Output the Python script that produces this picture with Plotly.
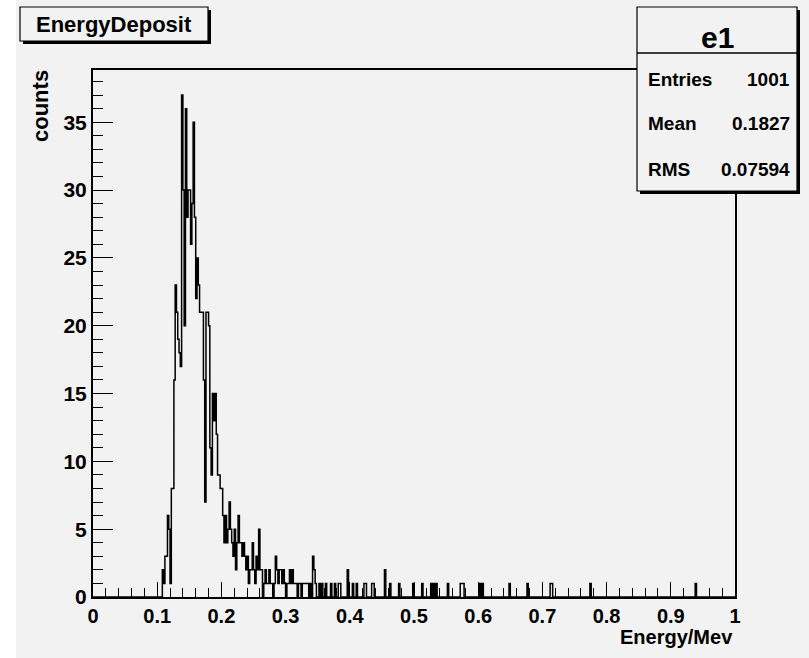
import numpy as np
import plotly.graph_objects as go

# Histogram definition: 500 bins between 0 and 1 MeV
N_BINS = 500
E_MIN, E_MAX = 0.0, 1.0
Y_MAX = 38.85

# Counts of the contiguous peak region, starting at bin PEAK_FIRST_BIN
PEAK_FIRST_BIN = 53
peak_counts = [
    0, 2, 1, 3, 3, 6, 5, 1, 8, 8,
    16, 23, 21, 19, 18, 17, 37, 30, 20, 36,
    28, 30, 30, 26, 29, 35, 28, 22, 25, 23,
    21, 21, 21, 16, 7, 21, 21, 20, 11, 9,
    15, 13, 15, 12, 9, 9, 8, 8, 6, 4,
    6, 4, 5, 7, 5, 4, 3, 5, 2, 4,
    6, 4, 4, 3, 4, 3, 2, 3, 1, 2,
    2, 4, 2, 1, 3, 2, 5, 2, 2, 0,
    1, 2, 1, 1, 2, 1, 1, 0, 1, 3,
    2, 1, 2, 2, 1, 2, 1, 0, 1, 1,
    2, 1, 2, 1, 1, 1, 0, 1, 1, 0,
    1, 1, 1, 1, 1, 0, 1, 0, 3, 2,
    1, 0, 0, 1, 0, 1, 0,
]

# Sparse high-energy tail: bin index and count
tail_bins = [181, 185, 188, 191, 192, 198, 202, 205, 211, 212,
             217, 218, 227, 231, 238, 249, 256, 263, 265, 267,
             276, 286, 287, 288, 301, 303, 324, 338, 356, 357,
             387, 469]
tail_counts = [1, 1, 1, 1, 1, 2, 1, 1, 1, 1,
               1, 1, 2, 1, 1, 1, 1, 1, 1, 1,
               1, 1, 1, 1, 1, 1, 1, 1, 1, 1,
               1, 1]

hist_name = "e1"
hist_title = "EnergyDeposit"
x_title = "Energy/Mev"
y_title = "counts"
stat_labels = ["Entries", "Mean", "RMS"]
stat_mean = "0.1827"
stat_rms = "0.07594"

counts = np.zeros(N_BINS)
counts[PEAK_FIRST_BIN:PEAK_FIRST_BIN + len(peak_counts)] = peak_counts
np.add.at(counts, tail_bins, tail_counts)
entries = int(counts.sum())
stat_values = [str(entries), stat_mean, stat_rms]

edges = np.linspace(E_MIN, E_MAX, N_BINS + 1)
step_y = np.append(counts, counts[-1])

# Canvas geometry (pixels)
W, H = 809, 658
FL, FR, FT, FB = 93, 735, 70, 597
BG = "#f2f2f2"
FONT = "Liberation Sans, Arial, Helvetica, sans-serif"


def fx(px):
    return (px - FL) / (FR - FL)


def fy(py):
    return (FB - py) / (FB - FT)


fig = go.Figure()
fig.add_trace(go.Scatter(
    x=edges, y=step_y, mode="lines", line_shape="hv",
    line=dict(color="black", width=1.5), hoverinfo="skip", showlegend=False,
))

shapes = []
# white strip on the left edge of the canvas
shapes.append(dict(type="rect", xref="paper", yref="paper",
                   x0=fx(0), x1=fx(16), y0=fy(H), y1=fy(0),
                   fillcolor="white", line=dict(width=0), layer="below"))


def boxed(x0, y0, x1, y1):
    # drop shadow then the framed box on top
    shapes.append(dict(type="rect", xref="paper", yref="paper",
                       x0=fx(x0 + 3), x1=fx(x1 + 3), y0=fy(y1 + 3), y1=fy(y0 + 3),
                       fillcolor="black", line=dict(width=0), layer="above"))
    shapes.append(dict(type="rect", xref="paper", yref="paper",
                       x0=fx(x0), x1=fx(x1), y0=fy(y1), y1=fy(y0),
                       fillcolor=BG, line=dict(color="black", width=1.2), layer="above"))


boxed(20, 7, 208, 41)
boxed(637, 7, 797, 191)
shapes.append(dict(type="line", xref="paper", yref="paper",
                   x0=fx(637), x1=fx(797), y0=fy(53), y1=fy(53),
                   line=dict(color="black", width=1.5), layer="above"))

annotations = [
    dict(text=hist_title, x=fx(114), y=fy(25), font=dict(size=22)),
    dict(text=hist_name, x=fx(717), y=fy(37), font=dict(size=30)),
    dict(text=y_title, x=fx(41), y=fy(68), yanchor="top", textangle=-90,
         font=dict(size=22)),
    dict(text=x_title, x=fx(735), y=fy(637), xanchor="right", font=dict(size=20)),
]
for lab, val, yp in zip(stat_labels, stat_values, [80, 123, 170]):
    annotations.append(dict(text=lab, x=fx(646), y=fy(yp), xanchor="left",
                            font=dict(size=19)))
    annotations.append(dict(text=val, x=fx(792), y=fy(yp), xanchor="right",
                            font=dict(size=19)))
for a in annotations:
    a.update(xref="paper", yref="paper", showarrow=False)
    a.setdefault("xanchor", "center")
    a.setdefault("yanchor", "middle")
    a["font"].update(family=FONT, color="black", weight="bold")

axis_common = dict(showgrid=False, zeroline=False, showline=True, mirror=True,
                   linecolor="black", linewidth=2, ticks="inside",
                   tickcolor="black", tickwidth=1)

fig.update_layout(
    width=W, height=H, autosize=False,
    margin=dict(l=FL, r=W - FR, t=FT, b=H - FB, pad=0),
    paper_bgcolor=BG, plot_bgcolor=BG,
    shapes=shapes, annotations=annotations,
    xaxis=dict(range=[E_MIN, E_MAX], tick0=0, dtick=0.1, ticklen=15,
               tickfont=dict(family=FONT, size=20, color="black", weight="bold"),
               minor=dict(dtick=0.02, ticks="inside", ticklen=9,
                          tickcolor="black", tickwidth=1, showgrid=False),
               **axis_common),
    yaxis=dict(range=[0, Y_MAX], tick0=0, dtick=5, ticklen=20,
               tickfont=dict(family=FONT, size=21, color="black", weight="bold"),
               minor=dict(dtick=1, ticks="inside", ticklen=10,
                          tickcolor="black", tickwidth=1, showgrid=False),
               **axis_common),
)

fig.write_html("out.html")
